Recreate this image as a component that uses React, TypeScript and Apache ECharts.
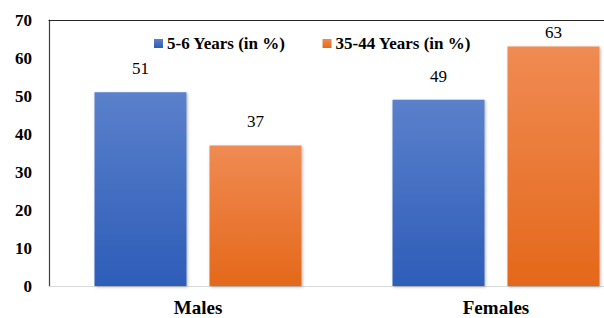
import React, { useEffect, useRef } from "react";
import * as echarts from "echarts";

const categories = ["Males", "Females"];
const seriesNames = ["5-6 Years (in %)", "35-44 Years (in %)"];
const youngValues = [51, 49];
const adultValues = [37, 63];
const yTicks = { min: 0, max: 70, interval: 10 };

const FONT = "Times New Roman, Liberation Serif, Tinos, DejaVu Serif, serif";

export default function App() {
  const ref = useRef<HTMLDivElement>(null);
  useEffect(() => {
    if (!ref.current) return;
    const chart = echarts.init(ref.current, undefined, { renderer: "svg" });
    const grad = (top: string, bottom: string) =>
      new echarts.graphic.LinearGradient(0, 0, 0, 1, [
        { offset: 0, color: top },
        { offset: 1, color: bottom },
      ]);
    const valueLabel = {
      show: true,
      position: "top" as const,
      distance: 15,
      fontFamily: FONT,
      fontSize: 17,
      color: "#000",
    };
    const toItems = (vals: number[]) =>
      vals.map((v) => (v > 60 ? { value: v, label: { distance: 6 } } : v));
    chart.setOption({
      animation: false,
      textStyle: { fontFamily: FONT },
      grid: { left: 49, top: 20, bottom: 32, right: 0, containLabel: false },
      legend: {
        left: 149,
        top: 30,
        icon: "rect",
        itemWidth: 9,
        itemHeight: 9,
        itemGap: 37,
        textStyle: { fontFamily: FONT, fontSize: 17, fontWeight: "bold", color: "#000", padding: [0, 0, 0, -1] },
        data: seriesNames,
      },
      xAxis: [
        {
          type: "category",
          data: categories,
          axisLine: { show: true, lineStyle: { color: "#d9d9d9", width: 1 } },
          axisTick: { show: false },
          axisLabel: { fontFamily: FONT, fontSize: 19, fontWeight: "bold", color: "#000", margin: 12 },
        },
        {
          type: "category",
          position: "top",
          data: categories,
          axisLine: { show: true, lineStyle: { color: "#262626", width: 1.2 } },
          axisTick: { show: false },
          axisLabel: { show: false },
        },
      ],
      yAxis: {
        type: "value",
        min: yTicks.min,
        max: yTicks.max,
        interval: yTicks.interval,
        axisLine: { show: true, lineStyle: { color: "#404040", width: 1.2 } },
        axisTick: { show: false },
        splitLine: { show: false },
        axisLabel: { fontFamily: FONT, fontSize: 17, fontWeight: "bold", color: "#000", margin: 17 },
      },
      series: [
        {
          name: seriesNames[0],
          type: "bar",
          data: toItems(youngValues),
          barWidth: 92,
          barGap: "25%",
          itemStyle: {
            color: grad("#5b80cb", "#2d5db8"),
            shadowBlur: 3,
            shadowColor: "rgba(0,0,0,0.3)",
            shadowOffsetX: 1,
            shadowOffsetY: 1,
          },
          label: valueLabel,
        },
        {
          name: seriesNames[1],
          type: "bar",
          data: toItems(adultValues),
          barWidth: 92,
          barGap: "25%",
          itemStyle: {
            color: grad("#f08b53", "#e4681a"),
            shadowBlur: 3,
            shadowColor: "rgba(0,0,0,0.3)",
            shadowOffsetX: 1,
            shadowOffsetY: 1,
          },
          label: valueLabel,
        },
      ],
    });
    return () => chart.dispose();
  }, []);
  return (
    <div
      ref={ref}
      style={{ position: "fixed", left: 0, top: 0, width: 645, height: 318, background: "#fff" }}
    />
  );
}
